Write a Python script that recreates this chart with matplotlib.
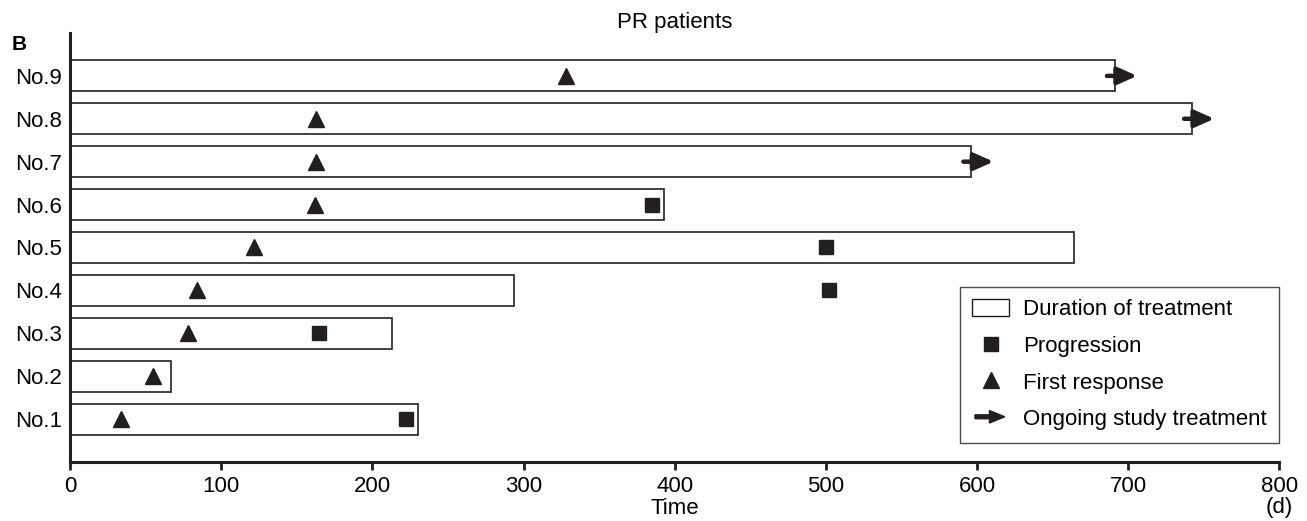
import numpy as np
import matplotlib
matplotlib.use("Agg")
import matplotlib.pyplot as plt
from matplotlib.patches import Patch, FancyArrow
from matplotlib.lines import Line2D
from matplotlib.legend_handler import HandlerPatch

plt.rcParams['font.family'] = ['Liberation Sans', 'DejaVu Sans']

# data (days)
patients = ['No.1', 'No.2', 'No.3', 'No.4', 'No.5', 'No.6', 'No.7', 'No.8', 'No.9']
duration = [230, 67, 213, 294, 664, 393, 596, 742, 691]
first_response = [34, 55, 78, 84, 122, 162, 163, 163, 328]
progression = [222, None, 165, 502, 500, 385, None, None, None]
ongoing = [False, False, False, False, False, False, True, True, True]
xticks = [0, 100, 200, 300, 400, 500, 600, 700, 800]

ink = '#231f20'
fs = 16

fig = plt.figure(figsize=(13.07, 5.21), dpi=100)
ax = fig.add_axes([0.0536, 0.1133, 0.9252, 0.8234])

ypos = np.arange(1, len(patients) + 1)

# duration bars
ax.barh(ypos, duration, height=0.72, left=0, color='white', edgecolor='#333333', linewidth=1.3, zorder=2)

# first response
ax.plot(first_response, ypos, linestyle='none', marker='^', markersize=12, color=ink, zorder=4)

# progression
prog_x = [p for p in progression if p is not None]
prog_y = [y for y, p in zip(ypos, progression) if p is not None]
ax.plot(prog_x, prog_y, linestyle='none', marker='s', markersize=10.5, color=ink, zorder=4)

# ongoing arrows
for y, d, og in zip(ypos, duration, ongoing):
    if og:
        ax.annotate('', xy=(d + 15, y), xytext=(d - 5, y),
                    arrowprops=dict(arrowstyle='-|>,head_length=0.9,head_width=0.4',
                                    color=ink, lw=3.2, shrinkA=0, shrinkB=0,
                                    mutation_scale=13), zorder=5)

ax.set_xlim(0, 800)
ax.set_ylim(0, 10)
ax.set_xticks(xticks)
ax.set_xticklabels([str(t) for t in xticks], fontsize=fs)
ax.set_yticks(ypos)
ax.set_yticklabels(patients, fontsize=fs)
ax.tick_params(axis='y', length=0, pad=6)
ax.tick_params(axis='x', length=6, width=2, direction='out', pad=4, color=ink)
ax.spines['top'].set_visible(False)
ax.spines['right'].set_visible(False)
for s in ['left', 'bottom']:
    ax.spines[s].set_linewidth(2.2)
    ax.spines[s].set_color(ink)

ax.set_title('PR patients', fontsize=fs, pad=2)
ax.set_xlabel('Time', fontsize=fs, labelpad=1)
ax.text(800, -0.82, '(d)', fontsize=fs, ha='center', va='top',
        transform=ax.get_xaxis_transform() if False else ax.transData)
fig.text(0.0092, 0.9155, 'B', fontsize=15, fontweight='bold', ha='left', va='center')


def make_arrow(legend, orig_handle, xdescent, ydescent, width, height, fontsize):
    return FancyArrow(2, height / 2, width - 5, 0, width=2.8, head_width=9,
                      head_length=11, length_includes_head=True)


handles = [
    Patch(facecolor='white', edgecolor=ink, linewidth=1),
    Line2D([], [], linestyle='none', marker='s', markersize=10.5, color=ink),
    Line2D([], [], linestyle='none', marker='^', markersize=12, color=ink),
    FancyArrow(0, 0, 1, 0, color=ink),
]
labels = ['Duration of treatment', 'Progression', 'First response', 'Ongoing study treatment']
leg = ax.legend(handles, labels, loc='upper right', bbox_to_anchor=(1.0, 0.409),
                borderaxespad=0, fontsize=fs, frameon=True, fancybox=False,
                handlelength=1.65, handleheight=0.8, handletextpad=0.65, labelspacing=0.7,
                borderpad=0.55,
                handler_map={FancyArrow: HandlerPatch(patch_func=make_arrow)})
leg.get_frame().set_edgecolor(ink)
leg.get_frame().set_linewidth(1)

fig.savefig('out.png', dpi=100)
